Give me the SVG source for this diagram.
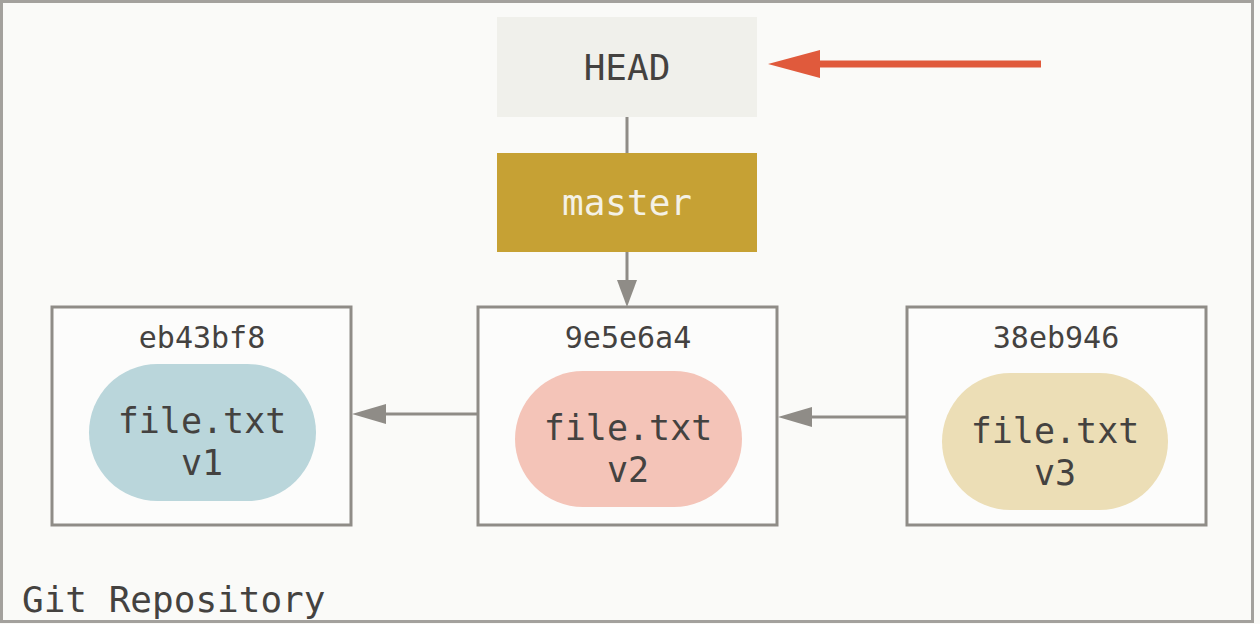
<svg xmlns="http://www.w3.org/2000/svg" width="1260" height="624" viewBox="0 0 1260 624">
<style>
.mono{font-family:"DejaVu Sans Mono","Liberation Mono",monospace;fill:#444240}
.commit{fill:#fcfcfb;stroke:#8f8c87;stroke-width:3}
.conn{stroke:#8f8c87;stroke-width:3;fill:none}
.head{fill:#8f8c87}
</style>
<rect x="0" y="0" width="1260" height="624" fill="#fafaf8"/>
<rect id="repo" x="1.5" y="1.5" width="1251" height="620" fill="none" stroke="#a3a19d" stroke-width="3"/>
<text class="mono" x="22" y="612" font-size="36">Git Repository</text>

<g id="connectors">
<line class="conn" x1="627" y1="117" x2="627" y2="153"/>
<line class="conn" x1="627" y1="252" x2="627" y2="285"/>
<polygon class="head" points="627,307 617,280 637,280"/>
<line class="conn" x1="478" y1="414" x2="380" y2="414"/>
<polygon class="head" points="352,414 386,404 386,424"/>
<line class="conn" x1="907" y1="417" x2="806" y2="417"/>
<polygon class="head" points="778,417 812,407 812,427"/>
<line x1="1041" y1="64" x2="812" y2="64" stroke="#e05a3c" stroke-width="7"/>
<polygon points="768,64 820,50 820,78" fill="#e05a3c"/>
</g>

<g id="head">
<rect x="497" y="17" width="260" height="100" fill="#f0f0eb"/>
<text class="mono" x="627" y="80" font-size="36" text-anchor="middle" fill="#3d3b39">HEAD</text>
</g>

<g id="master">
<rect x="497" y="153" width="260" height="99" fill="#c6a134"/>
<text x="627" y="215" font-size="36" text-anchor="middle" font-family="DejaVu Sans Mono, Liberation Mono, monospace" fill="#f4f1e6">master</text>
</g>

<g id="c-eb43bf8">
<rect class="commit" x="52" y="307" width="299" height="218"/>
<text class="mono" x="202" y="348" font-size="30" text-anchor="middle">eb43bf8</text>
<rect x="89" y="364" width="227" height="137" rx="68.5" fill="#bad6db"/>
<text class="mono" x="202" y="433" font-size="35" text-anchor="middle">file.txt</text>
<text class="mono" x="202" y="475" font-size="35" text-anchor="middle">v1</text>
</g>

<g id="c-9e5e6a4">
<rect class="commit" x="478" y="307" width="299" height="218"/>
<text class="mono" x="628" y="348" font-size="30" text-anchor="middle">9e5e6a4</text>
<rect x="515" y="371" width="227" height="136" rx="68" fill="#f4c4b8"/>
<text class="mono" x="628" y="440" font-size="35" text-anchor="middle">file.txt</text>
<text class="mono" x="628" y="482" font-size="35" text-anchor="middle">v2</text>
</g>

<g id="c-38eb946">
<rect class="commit" x="907" y="307" width="299" height="218"/>
<text class="mono" x="1056" y="348" font-size="30" text-anchor="middle">38eb946</text>
<rect x="942" y="373" width="226" height="137" rx="68.5" fill="#ecdeb6"/>
<text class="mono" x="1055" y="443" font-size="35" text-anchor="middle">file.txt</text>
<text class="mono" x="1055" y="485" font-size="35" text-anchor="middle">v3</text>
</g>
</svg>
